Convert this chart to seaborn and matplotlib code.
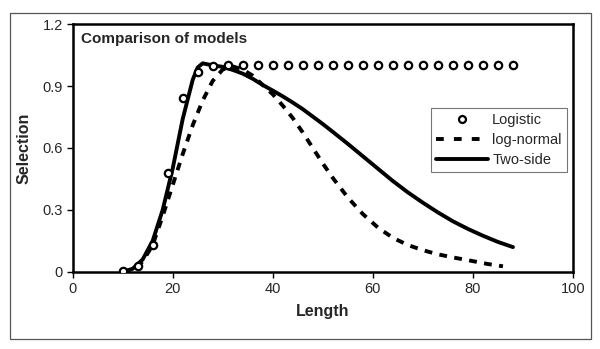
import matplotlib
matplotlib.use("Agg")
import matplotlib.pyplot as plt
import numpy as np
import pandas as pd
import seaborn as sns
from matplotlib.lines import Line2D
from matplotlib.patches import Rectangle

# data
logistic_x = list(range(10, 89, 3))
logistic_y = [0.005, 0.03, 0.13, 0.48, 0.84, 0.97, 0.997] + [1.0] * 20

lognorm_x = [10, 12, 14, 16, 18, 20, 22, 24, 26, 28, 30, 32, 34, 36, 38, 40, 42, 44,
             46, 48, 50, 52, 55, 58, 61, 64, 67, 70, 73, 76, 80, 83, 86]
lognorm_y = [0.0, 0.01, 0.05, 0.13, 0.27, 0.42, 0.57, 0.71, 0.83, 0.925, 0.98, 0.995,
             0.98, 0.95, 0.905, 0.86, 0.805, 0.745, 0.675, 0.6, 0.525, 0.455, 0.36, 0.28,
             0.215, 0.165, 0.13, 0.105, 0.085, 0.07, 0.052, 0.038, 0.027]

twoside_x = [10, 12, 14, 16, 18, 20, 22, 24, 25, 26, 28, 30, 32, 34, 36, 38, 40, 42, 44,
             46, 48, 50, 52, 55, 58, 61, 64, 67, 70, 73, 76, 79, 82, 85, 88]
twoside_y = [0.0, 0.015, 0.06, 0.15, 0.3, 0.5, 0.74, 0.93, 0.99, 1.01, 1.0, 0.993,
             0.978, 0.96, 0.935, 0.905, 0.878, 0.85, 0.82, 0.788, 0.752, 0.716, 0.678,
             0.62, 0.56, 0.5, 0.44, 0.385, 0.335, 0.288, 0.245, 0.208, 0.175, 0.145, 0.12]

x_ticks = [0, 20, 40, 60, 80, 100]
y_ticks = [0, 0.3, 0.6, 0.9, 1.2]
y_labels = ["0", "0.3", "0.6", "0.9", "1.2"]

sns.set_style("white")
plt.rcParams["font.family"] = ["Liberation Sans", "DejaVu Sans"]

fig = plt.figure(figsize=(6, 3.49), dpi=100)
ax = fig.add_axes([0.121, 0.221, 0.834, 0.710])

df_log = pd.DataFrame({"Length": lognorm_x, "Selection": lognorm_y})
df_two = pd.DataFrame({"Length": twoside_x, "Selection": twoside_y})
df_logi = pd.DataFrame({"Length": logistic_x, "Selection": logistic_y})

sns.lineplot(data=df_log, x="Length", y="Selection", ax=ax, color="black",
             linewidth=2.8, linestyle=(0, (2.0, 1.9)), estimator=None, sort=False)
sns.lineplot(data=df_two, x="Length", y="Selection", ax=ax, color="black",
             linewidth=2.8, estimator=None, sort=False)
sns.scatterplot(data=df_logi, x="Length", y="Selection", ax=ax, marker="o",
                facecolor="white", edgecolor="black", linewidth=1.6, s=28, zorder=3)

ax.set_xlim(0, 100)
ax.set_ylim(0, 1.2)
ax.set_xticks(x_ticks)
ax.set_yticks(y_ticks)
ax.set_yticklabels(y_labels)
ax.tick_params(axis="both", direction="out", length=4, width=1, labelsize=10.5,
               left=True, bottom=True, color="black", pad=3)
ax.set_xlabel("Length", fontsize=11.5, fontweight="bold", labelpad=6)
ax.set_ylabel("Selection", fontsize=11.5, fontweight="bold", labelpad=8)
for sp in ax.spines.values():
    sp.set_color("black")
    sp.set_linewidth(1.8)

ax.text(0.016, 0.97, "Comparison of models", transform=ax.transAxes,
        fontsize=11, fontweight="bold", va="top", ha="left")

handles = [
    Line2D([], [], marker="o", linestyle="none", markerfacecolor="white",
           markeredgecolor="black", markeredgewidth=1.6, markersize=5),
    Line2D([], [], color="black", linewidth=2.8, linestyle=(0, (2.0, 2.6))),
    Line2D([], [], color="black", linewidth=2.8),
]
leg = ax.legend(handles, ["Logistic", "log-normal", "Two-side"],
                loc="upper left", bbox_to_anchor=(0.716, 0.66), fontsize=10.5,
                frameon=True, fancybox=False, handlelength=3.6, handletextpad=0.25,
                borderpad=0.35, labelspacing=0.4, borderaxespad=0)
leg.get_frame().set_edgecolor("#555555")
leg.get_frame().set_linewidth(0.8)

# outer chart frame
fig.patches.append(Rectangle((9.5 / 600, 1 - 339 / 349), 581 / 600, 326 / 349,
                             transform=fig.transFigure, fill=False,
                             edgecolor="#555555", linewidth=0.9))

fig.savefig("out.png", dpi=100)
plt.close(fig)
